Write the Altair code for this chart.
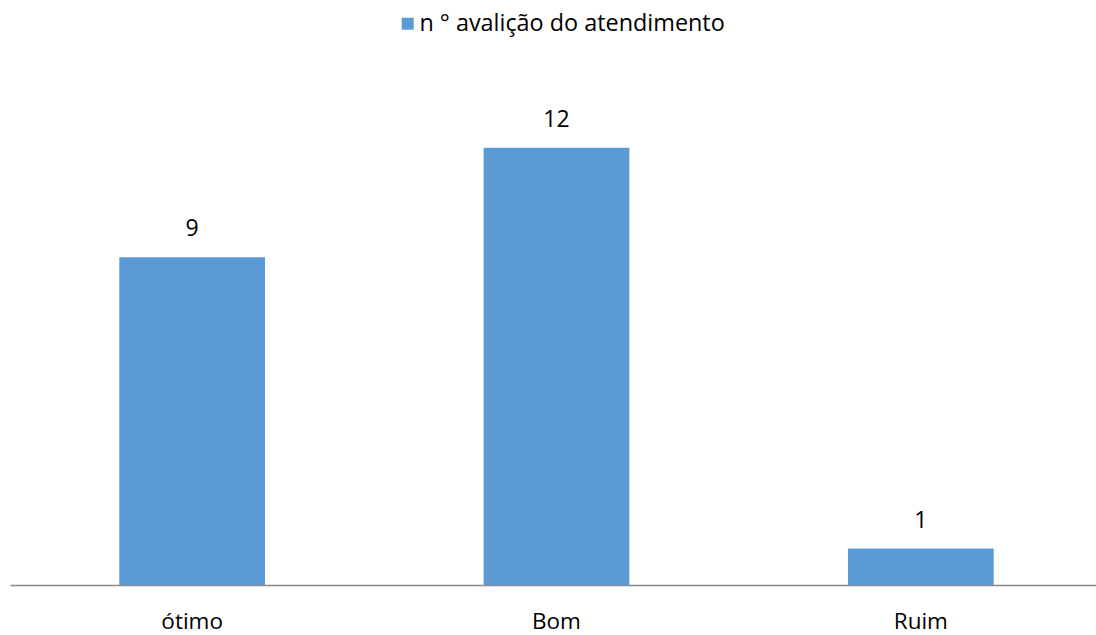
import altair as alt
import pandas as pd

# Avaliação do atendimento
categorias = ["ótimo", "Bom", "Ruim"]
valores = [9, 12, 1]
serie = "n ° avalição do atendimento"

df = pd.DataFrame({"categoria": categorias, "valor": valores, "serie": [serie] * len(categorias)})

FONT = "Open Sans"

base = alt.Chart(df).encode(
    x=alt.X(
        "categoria:N",
        sort=categorias,
        scale=alt.Scale(paddingInner=0.6, paddingOuter=0.3, range=[0, 1093]),
        axis=alt.Axis(
            title=None,
            labelAngle=0,
            ticks=False,
            grid=False,
            domainColor="#898989",
            domainWidth=1.5,
            labelFont=FONT,
            labelFontSize=22.5,
            labelColor="#000000",
            labelPadding=25,
        ),
    ),
    y=alt.Y("valor:Q", scale=alt.Scale(domain=[0, 14]), axis=None),
)

bars = base.mark_bar(color="#5B9BD5").encode(
    color=alt.Color(
        "serie:N",
        scale=alt.Scale(range=["#5B9BD5"]),
        legend=alt.Legend(
            title=None,
            orient="none",
            legendX=386,
            legendY=-63,
            symbolType="square",
            symbolSize=144,
            symbolStrokeWidth=0,
            labelFont=FONT,
            labelFontSize=23.4,
            labelColor="#000000",
            labelOffset=0,
            labelLimit=0,
        ),
    )
)

labels = base.mark_text(font=FONT, fontSize=23, color="#000000", baseline="bottom", dy=-16).encode(
    text="valor:Q"
)

chart = (
    alt.layer(bars, labels)
    .properties(
        width=1086,
        height=510,
        background="#ffffff",
        autosize=alt.AutoSizeParams(type="none"),
        padding={"left": 10, "top": 75, "right": 0, "bottom": 50},
    )
    .configure_view(strokeWidth=0, stroke=None)
)

chart.save("out.html", embed_options={"renderer": "svg", "actions": False})
